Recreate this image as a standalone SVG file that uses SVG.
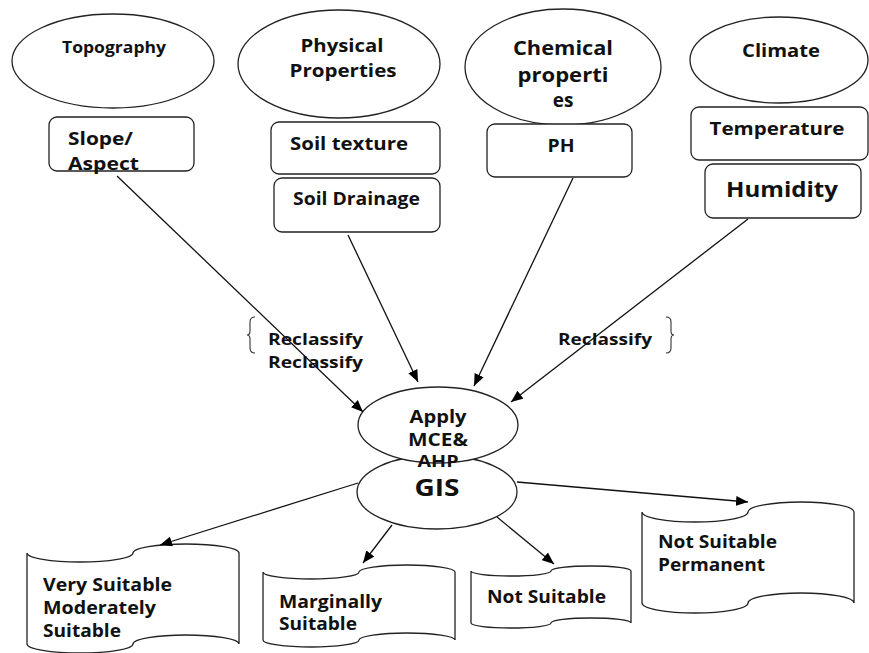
<svg xmlns="http://www.w3.org/2000/svg" width="869" height="653" viewBox="0 0 869 653">
<defs>
<style>
.sh{fill:#fff;stroke:#222;stroke-width:1.3}
.t{font-family:"Open Sans","Noto Sans","Liberation Sans",sans-serif;font-weight:bold;fill:#111}
.m{text-anchor:middle}
.c{fill:none;stroke:#111;stroke-width:1.3}
.br{fill:none;stroke:#333;stroke-width:1.1}
</style>
<marker id="ah" viewBox="0 0 12 10" refX="12" refY="5" markerWidth="12" markerHeight="10" markerUnits="userSpaceOnUse" orient="auto">
<path d="M0,0 L12,5 L0,10 Z" fill="#000"/>
</marker>
</defs>
<rect width="869" height="653" fill="#fff"/>

<g id="topography">
<ellipse class="sh" cx="113" cy="61" rx="101" ry="47"/>
<text class="t m" x="114" y="53" font-size="16.5" textLength="104" lengthAdjust="spacingAndGlyphs">Topography</text>
</g>
<g id="physical">
<ellipse class="sh" cx="339" cy="64" rx="101" ry="54"/>
<text class="t m" x="342" y="52" font-size="18.5" textLength="83" lengthAdjust="spacingAndGlyphs">Physical</text>
<text class="t m" x="343" y="77" font-size="18.5" textLength="107" lengthAdjust="spacingAndGlyphs">Properties</text>
</g>
<g id="chemical">
<ellipse class="sh" cx="563" cy="67" rx="98" ry="58"/>
<text class="t m" x="563" y="55" font-size="19" textLength="100" lengthAdjust="spacingAndGlyphs">Chemical</text>
<text class="t m" x="563" y="82" font-size="19" textLength="91" lengthAdjust="spacingAndGlyphs">properti</text>
<text class="t m" x="563" y="107" font-size="19">es</text>
</g>
<g id="climate">
<ellipse class="sh" cx="779" cy="60" rx="89" ry="43"/>
<text class="t m" x="781" y="57" font-size="18.5" textLength="78" lengthAdjust="spacingAndGlyphs">Climate</text>
</g>

<g id="slope">
<rect class="sh" x="49" y="117" width="145" height="54" rx="8"/>
<text class="t" x="68" y="145" font-size="18.5" textLength="65" lengthAdjust="spacingAndGlyphs">Slope/</text>
<text class="t" x="68" y="170" font-size="18.5" textLength="71" lengthAdjust="spacingAndGlyphs">Aspect</text>
</g>
<g id="soiltexture">
<rect class="sh" x="271" y="122" width="169" height="52" rx="8"/>
<text class="t" x="290" y="150" font-size="18" textLength="118" lengthAdjust="spacingAndGlyphs">Soil texture</text>
</g>
<g id="soildrainage">
<rect class="sh" x="274" y="178" width="166" height="54" rx="8"/>
<text class="t" x="293" y="205" font-size="17" textLength="127" lengthAdjust="spacingAndGlyphs">Soil Drainage</text>
</g>
<g id="ph">
<rect class="sh" x="487" y="124" width="145" height="53" rx="8"/>
<text class="t m" x="561" y="152" font-size="17" textLength="27" lengthAdjust="spacingAndGlyphs">PH</text>
</g>
<g id="temperature">
<rect class="sh" x="691" y="107" width="177" height="53" rx="8"/>
<text class="t m" x="777" y="135" font-size="17.5" textLength="135" lengthAdjust="spacingAndGlyphs">Temperature</text>
</g>
<g id="humidity">
<rect class="sh" x="705" y="164" width="156" height="54" rx="8"/>
<text class="t m" x="782" y="197" font-size="21.5" textLength="112" lengthAdjust="spacingAndGlyphs">Humidity</text>
</g>

<g id="labels">
<path class="br" d="M255,317 Q250,317 250,322 L250,331 Q250,335 247,335 Q250,335 250,339 L250,348 Q250,353 255,353"/>
<text class="t" x="268" y="345" font-size="16.5" textLength="95" lengthAdjust="spacingAndGlyphs">Reclassify</text>
<text class="t" x="268" y="368" font-size="16.5" textLength="95" lengthAdjust="spacingAndGlyphs">Reclassify</text>
<text class="t" x="558" y="345" font-size="16.5" textLength="94" lengthAdjust="spacingAndGlyphs">Reclassify</text>
<path class="br" d="M666,317 Q671,317 671,322 L671,331 Q671,335 674,335 Q671,335 671,339 L671,348 Q671,353 666,353"/>
</g>

<g id="gis">
<ellipse class="sh" cx="437" cy="492" rx="80" ry="37"/>
<text class="t m" x="437" y="496" font-size="23.5" textLength="45" lengthAdjust="spacingAndGlyphs">GIS</text>
</g>
<g id="apply">
<ellipse class="sh" cx="438" cy="425" rx="80" ry="38"/>
<text class="t m" x="438" y="423" font-size="17.5" textLength="57" lengthAdjust="spacingAndGlyphs">Apply</text>
<text class="t m" x="438" y="446" font-size="17.5" textLength="60" lengthAdjust="spacingAndGlyphs">MCE&amp;</text>
<text class="t m" x="438" y="467" font-size="16.5" textLength="41" lengthAdjust="spacingAndGlyphs">AHP</text>
</g>

<g id="very">
<path class="sh" d="M27,553 A53,9 0 0 0 133,553 A53,9 0 0 1 239,553 L239,644 A53,9 0 0 0 133,644 A53,9 0 0 1 27,644 Z"/>
<text class="t" x="43" y="591" font-size="17" textLength="129" lengthAdjust="spacingAndGlyphs">Very Suitable</text>
<text class="t" x="43" y="614" font-size="17" textLength="113" lengthAdjust="spacingAndGlyphs">Moderately</text>
<text class="t" x="43" y="637" font-size="17" textLength="78" lengthAdjust="spacingAndGlyphs">Suitable</text>
</g>
<g id="marginal">
<path class="sh" d="M263,572 A48,7 0 0 0 359,572 A48,7 0 0 1 455,572 L455,640 A48,7 0 0 0 359,640 A48,7 0 0 1 263,640 Z"/>
<text class="t" x="279" y="608" font-size="17" textLength="103" lengthAdjust="spacingAndGlyphs">Marginally</text>
<text class="t" x="279" y="630" font-size="17" textLength="78" lengthAdjust="spacingAndGlyphs">Suitable</text>
</g>
<g id="notsuitable">
<path class="sh" d="M471,571 A40,5 0 0 0 551,571 A40,5 0 0 1 631,571 L631,623 A40,5 0 0 0 551,623 A40,5 0 0 1 471,623 Z"/>
<text class="t" x="487" y="603" font-size="17" textLength="119" lengthAdjust="spacingAndGlyphs">Not Suitable</text>
</g>
<g id="permanent">
<path class="sh" d="M642,512 A53,10 0 0 0 748,512 A53,10 0 0 1 854,512 L854,603 A53,10 0 0 0 748,603 A53,10 0 0 1 642,603 Z"/>
<text class="t" x="658" y="548" font-size="17" textLength="119" lengthAdjust="spacingAndGlyphs">Not Suitable</text>
<text class="t" x="658" y="571" font-size="17" textLength="107" lengthAdjust="spacingAndGlyphs">Permanent</text>
</g>

<g id="connectors">
<line class="c" x1="117" y1="176" x2="363" y2="412" marker-end="url(#ah)"/>
<line class="c" x1="348" y1="235" x2="418" y2="382" marker-end="url(#ah)"/>
<line class="c" x1="573" y1="178" x2="474" y2="386" marker-end="url(#ah)"/>
<line class="c" x1="748" y1="219" x2="511" y2="402" marker-end="url(#ah)"/>
<line class="c" x1="358" y1="483" x2="160" y2="545" marker-end="url(#ah)"/>
<line class="c" x1="392" y1="525" x2="363" y2="563" marker-end="url(#ah)"/>
<line class="c" x1="497" y1="517" x2="554" y2="564" marker-end="url(#ah)"/>
<line class="c" x1="517" y1="482" x2="748" y2="502" marker-end="url(#ah)"/>
</g>
</svg>
